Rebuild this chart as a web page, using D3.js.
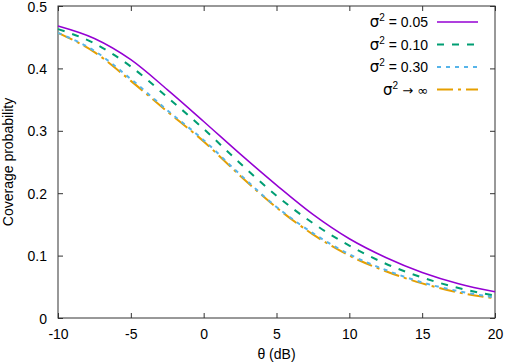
<!DOCTYPE html>
<html>
<head>
<meta charset="utf-8">
<script src="https://cdn.jsdelivr.net/npm/d3@7"></script>
<style>
  body { margin: 0; background: #fff; }
  svg { display: block; font-family: "Liberation Sans", Arial, sans-serif; }
</style>
</head>
<body>
<div id="chart-area"></div>
<script>
// threshold values (dB) and coverage probabilities
const thetaDb = [-10, -7.5, -5, -2.5, 0, 2.5, 5, 7.5, 10, 12.5, 15, 17.5, 20];
const pSigma005 = [0.468, 0.448, 0.414, 0.366, 0.315, 0.263, 0.213, 0.166, 0.127, 0.097, 0.073, 0.055, 0.042];
const pSigma010 = [0.463, 0.440, 0.403, 0.354, 0.303, 0.248, 0.196, 0.152, 0.116, 0.087, 0.065, 0.048, 0.036];
const pSigma030 = [0.457, 0.428, 0.383, 0.333, 0.285, 0.230, 0.178, 0.136, 0.102, 0.077, 0.057, 0.043, 0.033];
const pSigmaInf = [0.457, 0.426, 0.380, 0.331, 0.283, 0.228, 0.177, 0.134, 0.100, 0.075, 0.0555, 0.041, 0.0315];

const seriesLabels = ['= 0.05', '= 0.10', '= 0.30', '\u2192 \u221e'];
const xTicks = [-10, -5, 0, 5, 10, 15, 20];
const yTicks = [0, 0.1, 0.2, 0.3, 0.4, 0.5];

let margin = { left: 58, right: 10, top: 6, bottom: 46 };
let width = 505 - margin.left - margin.right;
let height = 364 - margin.top - margin.bottom;

const svg = d3.select('#chart-area').append('svg')
	.attr('width', 505)
	.attr('height', 364);

let g = svg.append('g')
	.attr('transform', 'translate(' + margin.left + ', ' + margin.top + ')');

let x = d3.scaleLinear().domain([-10, 20]).range([0, width]);
let y = d3.scaleLinear().domain([0, 0.5]).range([height, 0]);

// gnuplot style: ticks point inward and are mirrored on top/right
const tickLen = 5;
const axisColor = '#333';

function styleAxis(sel) {
	sel.select('.domain').remove();
	sel.selectAll('line').attr('stroke', axisColor);
	sel.selectAll('text').attr('fill', '#000').attr('font-size', '14px');
}

g.append('g')
	.attr('transform', 'translate(0, ' + height + ')')
	.call(d3.axisBottom(x).tickValues(xTicks).tickSizeInner(-tickLen).tickSizeOuter(0).tickPadding(tickLen + 6).tickFormat(d => String(d)))
	.call(styleAxis);

g.append('g')
	.call(d3.axisTop(x).tickValues(xTicks).tickSizeInner(-tickLen).tickSizeOuter(0).tickFormat(''))
	.call(styleAxis);

g.append('g')
	.call(d3.axisLeft(y).tickValues(yTicks).tickSizeInner(-tickLen).tickSizeOuter(0).tickPadding(tickLen + 6).tickFormat(d => d === 0 ? '0' : d3.format('.1f')(d)))
	.call(styleAxis)
	.selectAll('text').attr('dy', '0.36em');

g.append('g')
	.attr('transform', 'translate(' + width + ', 0)')
	.call(d3.axisRight(y).tickValues(yTicks).tickSizeInner(-tickLen).tickSizeOuter(0).tickFormat(''))
	.call(styleAxis);

// frame
g.append('rect')
	.attr('x', 0).attr('y', 0)
	.attr('width', width).attr('height', height)
	.attr('fill', 'none')
	.attr('stroke', axisColor)
	.attr('stroke-width', 1);

// axis labels
g.append('text')
	.attr('x', width / 2)
	.attr('y', height + 41)
	.attr('font-size', '14px')
	.attr('text-anchor', 'middle')
	.text('\u03b8 (dB)');

g.append('text')
	.attr('x', -(height / 2))
	.attr('y', -45)
	.attr('font-size', '14px')
	.attr('text-anchor', 'middle')
	.attr('transform', 'rotate(-90)')
	.text('Coverage probability');

// curves
const seriesData = [pSigma005, pSigma010, pSigma030, pSigmaInf];
const colors = ['#9400d3', '#009e73', '#56b4e9', '#e69f00'];
const dashes = [null, '7,8', '4,5', '16,5,3,5'];
const widths = [1.5, 2, 2, 2];

let line = d3.line()
	.x((d, i) => x(thetaDb[i]))
	.y(d => y(d))
	.curve(d3.curveMonotoneX);

let plot = g.append('g');

// draw back to front so the solid line sits on top like the original
[3, 2, 1, 0].forEach(k => {
	plot.append('path')
		.datum(seriesData[k])
		.attr('d', line)
		.attr('fill', 'none')
		.attr('stroke', colors[k])
		.attr('stroke-width', widths[k])
		.attr('stroke-dasharray', dashes[k]);
});

// legend
let legend = g.append('g').attr('transform', 'translate(' + (width - 67) + ', 16)');
seriesLabels.forEach((lab, k) => {
	let row = legend.append('g').attr('transform', 'translate(0, ' + (k * 22.5) + ')');
	let t = row.append('text')
		.attr('x', 0)
		.attr('y', 5)
		.attr('font-size', '14px')
		.attr('text-anchor', 'end');
	t.append('tspan').attr('font-family', '"DejaVu Sans"').attr('font-size', '15px').text('\u03c3');
	t.append('tspan').attr('font-size', '10px').attr('dy', -6).text('2');
	if (k === 3) {
		t.append('tspan').attr('dy', 6).attr('font-family', '"DejaVu Sans"').attr('font-size', '13px').text(' ' + lab);
	} else {
		t.append('tspan').attr('dy', 6).text(' ' + lab);
	}
	row.append('line')
		.attr('x1', 9).attr('x2', 50)
		.attr('y1', 0).attr('y2', 0)
		.attr('stroke', colors[k])
		.attr('stroke-width', widths[k])
		.attr('stroke-dasharray', dashes[k]);
});
</script>
</body>
</html>
